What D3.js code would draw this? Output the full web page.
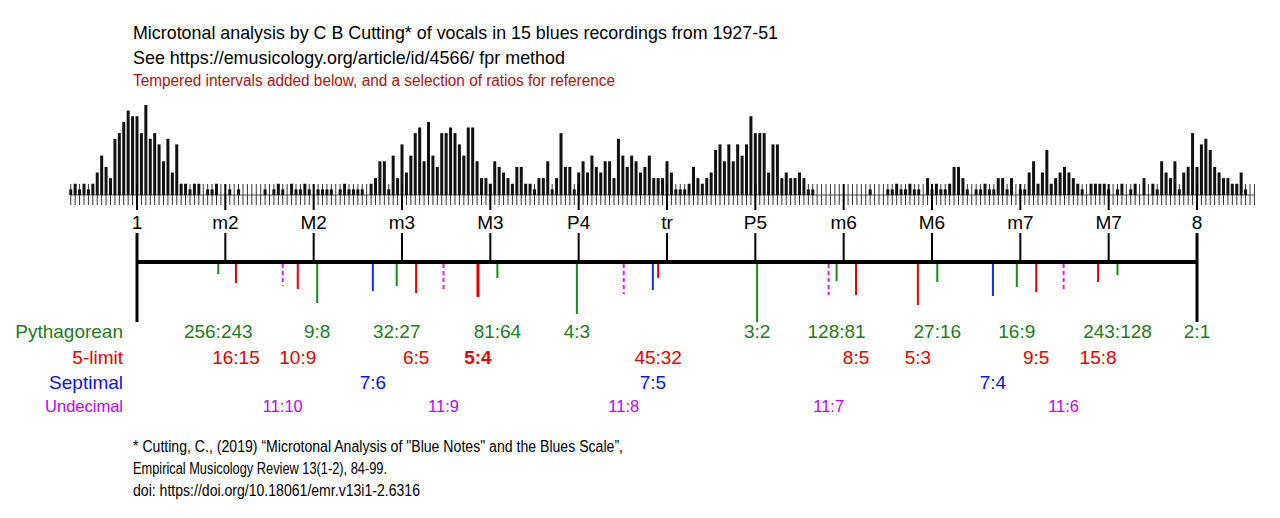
<!DOCTYPE html>
<html>
<head>
<meta charset="utf-8">
<script src="https://d3js.org/d3.v7.min.js"></script>
<style>
  body { margin: 0; background: #fff; }
  svg { display: block; font-family: "Liberation Sans", Arial, sans-serif; }
</style>
</head>
<body>
<div class="contents"></div>
<script>
// histogram: 5-cent bins starting at -75 cents
var binStart = -75;
var binStep = 5;
var counts = [
  1,2,1,2,1,2,4,7,5,3,10,11,13,15,14,
  14,11,16,10,11,9,6,10,4,9,2,2,1,2,2,0,1,1,2,0,
  0,1,0,1,0,0,0,0,0,1,0,1,2,1,0,2,1,1,2,1,
  0,1,1,1,1,0,1,2,1,1,1,1,0,2,3,6,6,1,7,3,
  9,4,7,11,12,6,13,7,5,11,11,12,11,9,7,12,12,6,3,3,
  2,6,5,4,3,2,5,5,2,2,1,3,3,6,1,3,11,5,5,1,
  4,6,4,7,5,4,6,6,3,10,7,5,7,6,4,5,7,3,3,3,
  6,4,1,1,1,2,5,3,2,3,4,8,9,6,9,6,9,7,9,14,
  11,11,11,4,9,9,3,4,3,3,4,3,1,1,0,0,0,0,0,0,
  0,0,0,0,0,0,1,0,0,0,1,1,2,1,1,2,1,1,0,3,
  1,2,1,1,2,5,5,3,1,0,1,1,2,1,1,3,3,1,3,0,
  1,1,4,6,2,4,8,2,3,4,5,4,3,2,1,0,2,2,2,2,
  1,0,1,2,0,1,2,0,3,0,2,1,6,4,3,6,1,4,5,11,
  5,9,10,8,5,4,3,3,2,2,4,1,0,0
];

// tempered intervals
var tempered = ["1","m2","M2","m3","M3","P4","tr","P5","m6","M6","m7","M7","8"];
var temperedCents = [0,100,200,300,400,500,600,700,800,900,1000,1100,1200];

// ratios (cents) and the length of their marks
var pythLabels = ["256:243","9:8","32:27","81:64","4:3","3:2","128:81","27:16","16:9","243:128","2:1"];
var pythCents = [92,204,294,408,498,702,792,906,996,1110,1200];
var pythMarks = [10,39,22,14,50,58,17,18,23,11,58];

var fiveLabels = ["16:15","10:9","6:5","5:4","45:32","8:5","5:3","9:5","15:8"];
var fiveCents = [112,182,316,386,590,814,884,1018,1088];
var fiveMarks = [19,25,29,33,14,31,41,28,18];

var septLabels = ["7:6","7:5","7:4"];
var septCents = [267,584,969];
var septMarks = [27,26,32];

var undecLabels = ["11:10","11:9","11:8","11:7","11:6"];
var undecCents = [165,347,551,783,1049];
var undecMarks = [22,27,30,31,27];

var width = 1280;
var height = 518;

var svg = d3.select(".contents").append("svg")
  .attr("width", width)
  .attr("height", height);

var x = d3.scaleLinear().domain([0,1200]).range([137,1197]);
var y = d3.scaleLinear().domain([0,16]).range([195,105]);
var mark = d3.scaleLinear().domain([0,60]).range([264,324]);

// titles
var titles = [
  {t:"Microtonal analysis by C B Cutting* of vocals in 15 blues recordings from 1927-51", y:39, s:19, w:645, c:"#000"},
  {t:"See https://emusicology.org/article/id/4566/ fpr method", y:64, s:19, w:432, c:"#000"},
  {t:"Tempered intervals added below, and a selection of ratios for reference", y:86, s:16, w:482, c:"#b01010"}
];
svg.selectAll("text.title")
  .data(titles)
  .enter()
  .append("text")
  .attr("class","title")
  .attr("x",133)
  .attr("y",function(d){return d.y;})
  .attr("textLength",function(d){return d.w;})
  .attr("lengthAdjust","spacingAndGlyphs")
  .style("font-size",function(d){return d.s+"px";})
  .style("fill",function(d){return d.c;})
  .text(function(d){return d.t;});

// histogram
var bins = counts.map(function(v,i){return {c: binStart + i*binStep, v: v};});

svg.append("line")
  .attr("x1",x(binStart)).attr("x2",x(binStart + (counts.length-1)*binStep))
  .attr("y1",y(0)).attr("y2",y(0))
  .style("stroke","#555").style("stroke-width",1);

svg.selectAll("line.bintick")
  .data(bins)
  .enter()
  .append("line")
  .attr("class","bintick")
  .attr("x1",function(d){return x(d.c);})
  .attr("x2",function(d){return x(d.c);})
  .attr("y1",184)
  .attr("y2",205)
  .style("stroke","#333")
  .style("stroke-width",1);

svg.selectAll("rect.bar")
  .data(bins.filter(function(d){return d.v > 0;}))
  .enter()
  .append("rect")
  .attr("class","bar")
  .attr("x",function(d){return x(d.c) - 1.5;})
  .attr("width",3)
  .attr("y",function(d){return y(d.v);})
  .attr("height",function(d){return y(0) - y(d.v);})
  .style("fill","#111");

svg.selectAll("line.semi")
  .data(temperedCents)
  .enter()
  .append("line")
  .attr("class","semi")
  .attr("x1",function(d){return x(d);})
  .attr("x2",function(d){return x(d);})
  .attr("y1",184)
  .attr("y2",210)
  .style("stroke","#000")
  .style("stroke-width",2);

// tempered scale
svg.selectAll("text.temp")
  .data(tempered)
  .enter()
  .append("text")
  .attr("class","temp")
  .attr("x",function(d,i){return x(temperedCents[i]);})
  .attr("y",229)
  .attr("text-anchor","middle")
  .style("font-size","19px")
  .text(function(d){return d;});

svg.selectAll("line.temp")
  .data(temperedCents)
  .enter()
  .append("line")
  .attr("class","temp")
  .attr("x1",function(d){return x(d);})
  .attr("x2",function(d){return x(d);})
  .attr("y1",233)
  .attr("y2",262)
  .style("stroke","#000")
  .style("stroke-width",2);

// ratio marks
var families = [
  {name:"Pythagorean", labels:pythLabels, cents:pythCents, marks:pythMarks, text:"#1f7a1f", tick:"#109010", y:338, s:19, dash:null},
  {name:"5-limit", labels:fiveLabels, cents:fiveCents, marks:fiveMarks, text:"#e00000", tick:"#e00000", y:364, s:19, dash:null},
  {name:"Septimal", labels:septLabels, cents:septCents, marks:septMarks, text:"#0a14e6", tick:"#1030f0", y:389, s:19, dash:null},
  {name:"Undecimal", labels:undecLabels, cents:undecCents, marks:undecMarks, text:"#c000ff", tick:"#e020f0", y:412, s:16.5, dash:"4,3"}
];

families.forEach(function(f){
  var items = f.labels.map(function(l,i){return {label:l, c:f.cents[i], m:f.marks[i]};});
  svg.append("g").selectAll("line")
    .data(items)
    .enter()
    .append("line")
    .attr("x1",function(d){return x(d.c);})
    .attr("x2",function(d){return x(d.c);})
    .attr("y1",264)
    .attr("y2",function(d){return mark(d.m);})
    .style("stroke",f.tick)
    .style("stroke-width",function(d){return d.label == "5:4" ? 3 : 2;})
    .style("stroke-dasharray",f.dash);

  svg.append("text")
    .attr("x",123)
    .attr("y",f.y)
    .attr("text-anchor","end")
    .style("font-size",f.s+"px")
    .style("fill",f.text)
    .text(f.name);

  svg.append("g").selectAll("text")
    .data(items)
    .enter()
    .append("text")
    .attr("x",function(d){return x(d.c);})
    .attr("y",f.y)
    .attr("text-anchor","middle")
    .style("font-size",f.s+"px")
    .style("font-weight",function(d){return d.label == "5:4" ? "bold" : "normal";})
    .style("fill",f.text)
    .text(function(d){return d.label;});
});

// main line and octave ends
svg.append("line")
  .attr("x1",x(0)).attr("x2",x(1200))
  .attr("y1",262).attr("y2",262)
  .style("stroke","#000").style("stroke-width",4);

svg.selectAll("line.octave")
  .data([0,1200])
  .enter()
  .append("line")
  .attr("class","octave")
  .attr("x1",function(d){return x(d);})
  .attr("x2",function(d){return x(d);})
  .attr("y1",233)
  .attr("y2",mark(58))
  .style("stroke","#000")
  .style("stroke-width",3);

// footnote
var notes = [
  {t:"*  Cutting, C., (2019) \u201cMicrotonal Analysis of \"Blue Notes\" and the Blues Scale\u201d,", y:452, w:490},
  {t:"Empirical Musicology Review 13(1-2), 84-99.", y:474, w:254},
  {t:"doi: https://doi.org/10.18061/emr.v13i1-2.6316", y:496, w:287}
];
svg.selectAll("text.note")
  .data(notes)
  .enter()
  .append("text")
  .attr("class","note")
  .attr("x",133)
  .attr("y",function(d){return d.y;})
  .attr("textLength",function(d){return d.w;})
  .attr("lengthAdjust","spacingAndGlyphs")
  .style("font-size","16px")
  .text(function(d){return d.t;});
</script>
</body>
</html>
